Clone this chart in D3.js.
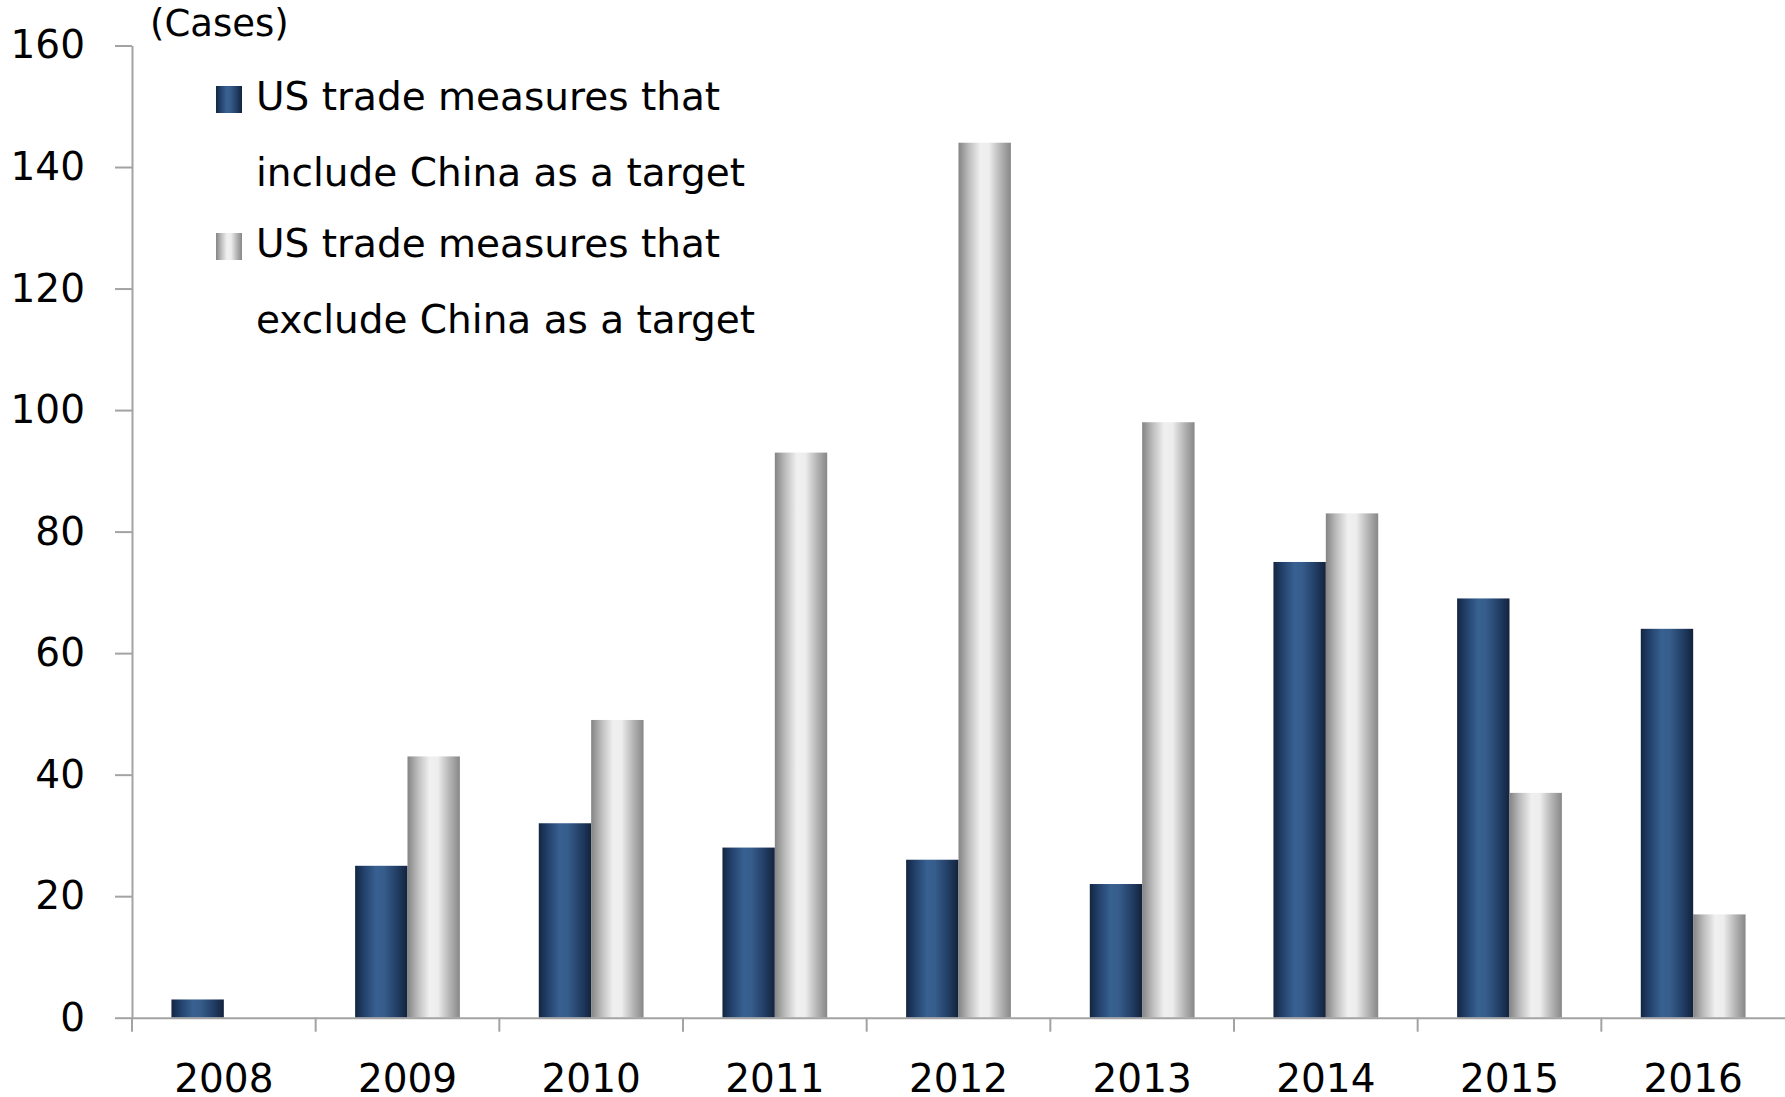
<!DOCTYPE html>
<html>
<head>
<meta charset="utf-8">
<script src="https://cdn.jsdelivr.net/npm/d3@7"></script>
<style>
  html, body { margin: 0; padding: 0; background: #ffffff; }
  svg { display: block; font-family: "DejaVu Sans", Verdana, sans-serif; }
</style>
</head>
<body>
<svg id="chart" width="1785" height="1097"></svg>
<script>
// Annual counts of US trade measures, split by whether China is a target
const years = ["2008", "2009", "2010", "2011", "2012", "2013", "2014", "2015", "2016"];
const includeChina = [3, 25, 32, 28, 26, 22, 75, 69, 64];
const excludeChina = [0, 43, 49, 93, 144, 98, 83, 37, 17];
const yTicks = [0, 20, 40, 60, 80, 100, 120, 140, 160];
const seriesKeys = ["include", "exclude"];
const legendLines = [
  ["US trade measures that", "include China as a target"],
  ["US trade measures that", "exclude China as a target"]
];
const unitLabel = "(Cases)";

const svg = d3.select("#chart");
const plotLeft = 132, plotRight = 1785, plotTop = 45.5, plotBottom = 1017.7;

// Cylinder-like horizontal shading for both series
const defs = svg.append("defs");
const gradStops = {
  include: [[0, "#132643"], [0.2, "#254571"], [0.4, "#386090"], [0.55, "#365d8c"], [0.8, "#223e65"], [1, "#13223c"]],
  exclude: [[0, "#848484"], [0.2, "#bdbdbd"], [0.42, "#f0f0f0"], [0.58, "#ededed"], [0.8, "#b5b5b5"], [1, "#878787"]]
};
seriesKeys.forEach(k => {
  const g = defs.append("linearGradient").attr("id", "grad-" + k)
    .attr("x1", 0).attr("x2", 1).attr("y1", 0).attr("y2", 0);
  gradStops[k].forEach(([o, c]) => g.append("stop").attr("offset", o).attr("stop-color", c));
});

const x = d3.scaleBand().domain(years).range([plotLeft, plotRight]).paddingInner(0).paddingOuter(0);
const x1 = d3.scaleBand().domain(seriesKeys).range([0, x.bandwidth()]).paddingInner(0).paddingOuter(0.753);
const y = d3.scaleLinear().domain([0, 160]).range([plotBottom, plotTop]);

const rows = years.map((yr, i) => ({ year: yr, include: includeChina[i], exclude: excludeChina[i] }));

// Bars
const groups = svg.append("g").selectAll("g").data(rows).join("g")
  .attr("transform", d => `translate(${x(d.year)},0)`);
groups.selectAll("rect")
  .data(d => seriesKeys.map(k => ({ key: k, value: d[k] })))
  .join("rect")
  .attr("x", d => x1(d.key))
  .attr("width", x1.bandwidth())
  .attr("y", d => y(d.value))
  .attr("height", d => y(0) - y(d.value))
  .attr("fill", d => `url(#grad-${d.key})`);

const axisColor = "#a3a3a3";

// Y axis
const yAxis = svg.append("g").attr("transform", `translate(${plotLeft},0)`)
  .call(d3.axisLeft(y).tickValues(yTicks).tickSize(17).tickSizeOuter(0).tickPadding(30));
yAxis.select(".domain").attr("stroke", axisColor).attr("stroke-width", 2);
yAxis.selectAll(".tick line").attr("stroke", axisColor).attr("stroke-width", 2);
yAxis.selectAll(".tick text").attr("fill", "#000").style("font-size", "39px")
  .style("font-family", "DejaVu Sans, Verdana, sans-serif");

// X axis: labels centred under each year, ticks between years
const xAxis = svg.append("g").attr("transform", `translate(0,${plotBottom})`)
  .call(d3.axisBottom(x).tickSize(0).tickPadding(47));
xAxis.select(".domain").attr("stroke", axisColor).attr("stroke-width", 2);
xAxis.selectAll(".tick text").attr("fill", "#000").style("font-size", "39px")
  .style("font-family", "DejaVu Sans, Verdana, sans-serif");
xAxis.append("g").selectAll("line").data(years).join("line")
  .attr("x1", d => x(d)).attr("x2", d => x(d))
  .attr("y1", 0).attr("y2", 14)
  .attr("stroke", axisColor).attr("stroke-width", 2);

// Unit label
svg.append("text").attr("x", 150).attr("y", 36)
  .style("font-size", "37px").attr("fill", "#000").text(unitLabel);

// Legend
const legend = svg.append("g");
const legendTop = [86, 233];
seriesKeys.forEach((k, i) => {
  const g = legend.append("g").attr("transform", `translate(216,${legendTop[i]})`);
  g.append("rect").attr("width", 26).attr("height", 27).attr("fill", `url(#grad-${k})`);
  g.selectAll("text").data(legendLines[i]).join("text")
    .attr("x", 40)
    .attr("y", (d, j) => 24 + j * 76)
    .style("font-size", "39px").attr("fill", "#000")
    .text(d => d);
});
</script>
</body>
</html>
